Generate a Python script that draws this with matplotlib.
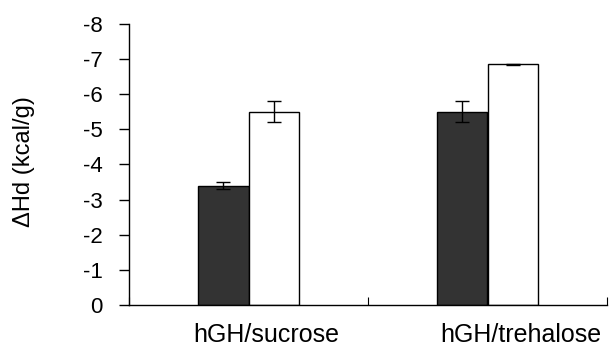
import matplotlib
matplotlib.use("Agg")
import matplotlib.pyplot as plt
import numpy as np

plt.rcParams['font.family'] = ['Liberation Sans', 'DejaVu Sans']

categories = ["hGH/sucrose", "hGH/trehalose"]
dark_values = [-3.40, -5.50]
dark_errors = [0.09, 0.30]
white_values = [-5.50, -6.85]
white_errors = [0.30, 0.02]
yticks = [0, -1, -2, -3, -4, -5, -6, -7, -8]
ylabel = "\u0394Hd (kcal/g)"

fig = plt.figure(figsize=(6.11, 3.48), dpi=100)
ax = fig.add_axes([129/611, 1-305/348, (607-129)/611, (305-24)/348])

x = np.arange(len(categories))
w = 0.213
ax.bar(x - w/2, dark_values, width=w, color="#333333", edgecolor="black", linewidth=1.0,
       yerr=dark_errors, error_kw=dict(ecolor="black", elinewidth=1.0, capsize=5, capthick=1.0))
ax.bar(x + w/2, white_values, width=w, color="white", edgecolor="black", linewidth=1.0,
       yerr=white_errors, error_kw=dict(ecolor="black", elinewidth=1.0, capsize=5, capthick=1.0))

ax.set_xlim(-0.5, len(categories) - 0.5)
ax.set_ylim(0, -8)
ax.set_yticks(yticks)
ax.set_yticklabels([str(v) for v in yticks], fontsize=16)
ax.tick_params(axis='y', direction='out', length=7, width=1, pad=12)

ax.set_xticks(np.arange(len(categories) + 1) - 0.5)
ax.set_xticklabels([])
ax.tick_params(axis='x', direction='in', length=6, width=0.8)

label_shift = [0.075, 0.14]
for i, c in enumerate(categories):
    ax.text(i + label_shift[i], 1 - 342/348, c,
            transform=matplotlib.transforms.blended_transform_factory(ax.transData, fig.transFigure),
            ha='center', va='baseline', fontsize=18)

for s in ['top', 'right']:
    ax.spines[s].set_visible(False)
for s in ['left', 'bottom']:
    ax.spines[s].set_linewidth(1.0)

fig.text(24/611, 1-162/348, ylabel, rotation=90, ha='center', va='center', fontsize=17)

fig.savefig("out.png", dpi=100)
